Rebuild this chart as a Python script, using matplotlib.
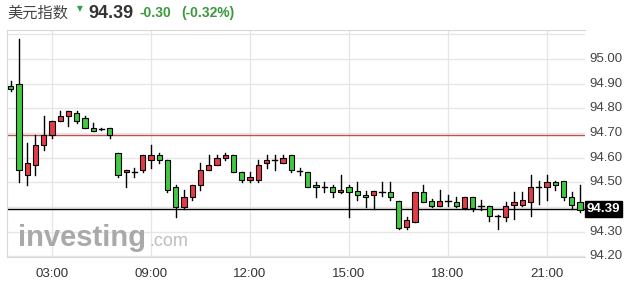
import matplotlib.pyplot as plt
from matplotlib.patches import Rectangle

plt.rcParams['font.family'] = ['Liberation Sans', 'DejaVu Sans']

# 15-minute candles
opens = [94.89, 94.90, 94.53, 94.57, 94.65, 94.69, 94.75, 94.77, 94.78, 94.76,
         94.72, 94.717, 94.72, 94.62, 94.54, 94.54, 94.55, 94.59, 94.61, 94.59,
         94.48, 94.40, 94.44, 94.49, 94.55, 94.57, 94.60, 94.61, 94.54, 94.51,
         94.51, 94.58, 94.59, 94.58, 94.61, 94.547, 94.54, 94.489, 94.482, 94.48,
         94.46, 94.48, 94.466, 94.449, 94.449, 94.462, 94.46, 94.426, 94.319, 94.341,
         94.46, 94.426, 94.405, 94.426, 94.42, 94.396, 94.44, 94.405, 94.405, 94.363,
         94.359, 94.409, 94.409, 94.42, 94.48, 94.48, 94.50, 94.507, 94.44, 94.42]
highs = [94.91, 95.08, 94.66, 94.69, 94.77, 94.75, 94.79, 94.79, 94.79, 94.77,
         94.74, 94.72, 94.72, 94.62, 94.55, 94.56, 94.61, 94.65, 94.62, 94.59,
         94.49, 94.47, 94.49, 94.58, 94.61, 94.61, 94.62, 94.61, 94.54, 94.54,
         94.59, 94.61, 94.61, 94.61, 94.61, 94.56, 94.54, 94.50, 94.50, 94.49,
         94.53, 94.49, 94.50, 94.464, 94.466, 94.50, 94.50, 94.426, 94.359, 94.46,
         94.489, 94.433, 94.469, 94.449, 94.44, 94.44, 94.44, 94.428, 94.405, 94.368,
         94.42, 94.46, 94.46, 94.529, 94.507, 94.529, 94.507, 94.507, 94.46, 94.489]
lows = [94.87, 94.50, 94.49, 94.53, 94.63, 94.68, 94.75, 94.73, 94.74, 94.72,
        94.71, 94.713, 94.68, 94.52, 94.48, 94.52, 94.54, 94.56, 94.58, 94.46,
        94.36, 94.39, 94.43, 94.47, 94.55, 94.57, 94.59, 94.54, 94.50, 94.50,
        94.50, 94.56, 94.55, 94.58, 94.54, 94.53, 94.48, 94.44, 94.46, 94.44,
        94.456, 94.36, 94.43, 94.40, 94.39, 94.444, 94.43, 94.31, 94.309, 94.338,
        94.42, 94.401, 94.405, 94.403, 94.401, 94.393, 94.382, 94.387, 94.345, 94.312,
        94.342, 94.35, 94.405, 94.363, 94.413, 94.43, 94.47, 94.43, 94.393, 94.378]
closes = [94.88, 94.55, 94.58, 94.65, 94.69, 94.75, 94.77, 94.79, 94.75, 94.72,
          94.71, 94.717, 94.69, 94.53, 94.55, 94.54, 94.61, 94.61, 94.59, 94.47,
          94.40, 94.44, 94.49, 94.55, 94.57, 94.60, 94.61, 94.54, 94.51, 94.52,
          94.57, 94.59, 94.59, 94.60, 94.55, 94.547, 94.48, 94.482, 94.482, 94.46,
          94.47, 94.46, 94.449, 94.44, 94.466, 94.462, 94.44, 94.315, 94.348, 94.46,
          94.42, 94.405, 94.426, 94.426, 94.405, 94.44, 94.396, 94.405, 94.363, 94.363,
          94.405, 94.42, 94.43, 94.48, 94.48, 94.50, 94.489, 94.44, 94.409, 94.389]

tick_pos = [5, 17, 29, 41, 53, 65]
tick_labels = ['03:00', '09:00', '12:00', '15:00', '18:00', '21:00']
y_ticks = [94.20, 94.30, 94.50, 94.60, 94.70, 94.80, 94.90, 95.00]
prev_close = 94.69
last_price = 94.39

UP = '#e23c48'
DOWN = '#3fca3f'

W, H = 632, 285
fig = plt.figure(figsize=(W / 100, H / 100), dpi=100)
ax = fig.add_axes([7 / W, 1 - 257 / H, (585 - 7) / W, (257 - 30) / H])
ax.set_xlim(-0.45, 69.6)
ax.set_ylim(94.197, 95.118)

# grid
for v in [94.2 + 0.1 * k for k in range(10)]:
    ax.axhline(v, color='#e6e6e6', lw=1, zorder=0)
for p in tick_pos:
    ax.axvline(p, color='#e6e6e6', lw=1, zorder=0)

ax.axhline(prev_close, color='#c0504d', lw=1, zorder=1)
ax.axhline(last_price, color='black', lw=1, zorder=1)

# candles
bw = 0.62
for i in range(len(opens)):
    o, h, l, c = opens[i], highs[i], lows[i], closes[i]
    ax.plot([i, i], [l, h], color='black', lw=1, zorder=3)
    if abs(c - o) < 0.002:
        ax.plot([i - bw / 2, i + bw / 2], [o, o], color='black', lw=1, zorder=4)
        continue
    col = UP if c > o else DOWN
    ax.add_patch(Rectangle((i - bw / 2, min(o, c)), bw, abs(c - o),
                           facecolor=col, edgecolor='black', lw=0.8, zorder=4))

for s in ['left', 'top', 'bottom']:
    ax.spines[s].set_color('#d8d8d8')
ax.spines['right'].set_visible(False)
ax.set_xticks([])
ax.set_yticks([])

# axis labels
for p, t in zip(tick_pos, tick_labels):
    ax.text(p, -0.075, t, transform=ax.get_xaxis_transform(), ha='center', va='center',
            fontsize=9.5, color='#333333')
for v in y_ticks:
    ax.text(1.008, v, f'{v:.2f}', transform=ax.get_yaxis_transform(), ha='left', va='center',
            fontsize=9.5, color='#444444')
ax.text(1.003, last_price, f'{last_price:.2f}', transform=ax.get_yaxis_transform(),
        ha='left', va='center', fontsize=9.5, color='white', fontweight='bold',
        bbox=dict(boxstyle='square,pad=0.15', facecolor='black', edgecolor='black'))

# watermark
fig.text(18 / W, 1 - 238 / H, 'investing', fontsize=21, fontweight='bold', color='#a9a9a9',
         ha='left', va='center')
fig.text(149 / W, 1 - 241 / H, '.com', fontsize=13, color='#bdbdbd', ha='left', va='center')

# header
fig.text(7 / W, 1 - 13 / H, '美元指数', fontsize=11, color='#444444', ha='left', va='center',
         family=['Noto Sans CJK SC', 'DejaVu Sans'])
fig.text(80 / W, 1 - 9 / H, '▼', fontsize=5.5, color='#2e9e4e', ha='center', va='center',
         family=['DejaVu Sans'])
fig.text(88 / W, 1 - 13 / H, '94.39', fontsize=13, fontweight='bold', color='#333333',
         ha='left', va='center')
fig.text(139 / W, 1 - 13 / H, '-0.30', fontsize=10, fontweight='bold', color='#3a9a3a',
         ha='left', va='center')
fig.text(181 / W, 1 - 13 / H, '(-0.32%)', fontsize=10, fontweight='bold', color='#3a9a3a',
         ha='left', va='center')

fig.savefig('out.png', dpi=100)
